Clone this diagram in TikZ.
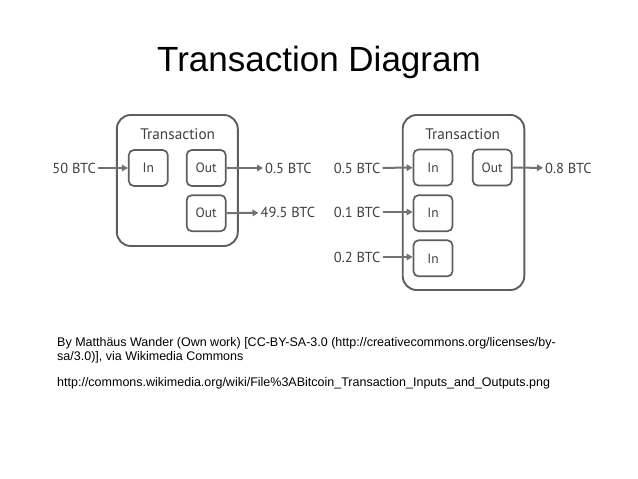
\documentclass[tikz,border=0pt]{standalone}
\usepackage{fontspec}
\setmainfont{Liberation Sans}
\newfontfamily\diagfont{PT Sans}
\usetikzlibrary{arrows.meta}
\definecolor{boxgray}{HTML}{5E5E5E}
\definecolor{txtgray}{HTML}{404040}
\definecolor{arrgray}{HTML}{727272}
\begin{document}
\begin{tikzpicture}[x=1pt,y=-1pt,
  txbox/.style={draw=boxgray,line width=1.9pt,rounded corners=14pt,inner sep=0pt},
  port/.style={draw=boxgray,line width=1.7pt,rounded corners=5pt,minimum width=39pt,minimum height=36pt,inner sep=0pt,font=\diagfont\fontsize{13.5}{15}\selectfont,text=txtgray,text height=9.5pt,text depth=0pt},
  amt/.style={font=\diagfont\fontsize{14.5}{16}\selectfont,text=txtgray,inner sep=2pt},
  txlabel/.style={font=\diagfont\fontsize{15.3}{17}\selectfont,text=txtgray,inner sep=0pt},
  flow/.style={draw=arrgray,line width=2pt,-{Triangle[length=6pt,width=6.5pt]}},
  credit/.style={font=\fontsize{12.5}{14}\selectfont,anchor=base west,inner sep=0pt}]
\useasboundingbox (0,0) rectangle (638,479);
\fill[white] (0,0) rectangle (638,479);
\node[font=\fontsize{35}{40}\selectfont,inner sep=0pt] (title) at (319,62) {Transaction Diagram};
% left transaction
\node[txbox,minimum width=121pt,minimum height=131pt] (tx1) at (177.3,180.5) {};
\node[txlabel] (tx1l) at (177.7,134.5) {Transaction};
\node[port] (in1) at (148.3,168) {In};
\node[port] (out1) at (206.2,168) {Out};
\node[port] (out2) at (206.2,213.2) {Out};
\node[amt,anchor=east] (a50) at (98,168) {50 BTC};
\node[amt,anchor=west] (a05) at (263,168) {0.5 BTC};
\node[amt,anchor=west] (a495) at (258.5,212.7) {49.5 BTC};
\draw[flow] (a50) -- (in1);
\draw[flow] (out1) -- (a05);
\draw[flow] (out2) -- (a495);
% right transaction
\node[txbox,minimum width=121.6pt,minimum height=175pt] (tx2) at (463.5,202.5) {};
\node[txlabel] (tx2l) at (462.7,134.5) {Transaction};
\node[port] (rin1) at (433,167.5) {In};
\node[port] (rout) at (492.2,167.5) {Out};
\node[port] (rin2) at (433,213.2) {In};
\node[port] (rin3) at (433,258.3) {In};
\node[amt,anchor=east] (b05) at (382.5,168) {0.5 BTC};
\node[amt,anchor=east] (b01) at (382.5,212) {0.1 BTC};
\node[amt,anchor=east] (b02) at (382.5,257) {0.2 BTC};
\node[amt,anchor=west] (b08) at (543,168) {0.8 BTC};
\draw[flow] (b05) -- (rin1);
\draw[flow] (b01.east) -- (b01.east -| rin2.west);
\draw[flow] (b02.east) -- (b02.east -| rin3.west);
\draw[flow] (rout) -- (b08);
% credits
\node[credit] (c1) at (57,346) {By Matthäus Wander (Own work) [CC-BY-SA-3.0 (http://creativecommons.org/licenses/by-};
\node[credit] (c2) at (57,360) {sa/3.0)], via Wikimedia Commons};
\node[credit] (c3) at (57,386) {http://commons.wikimedia.org/wiki/File\%3ABitcoin\_Transaction\_Inputs\_and\_Outputs.png};
\end{tikzpicture}
\end{document}
